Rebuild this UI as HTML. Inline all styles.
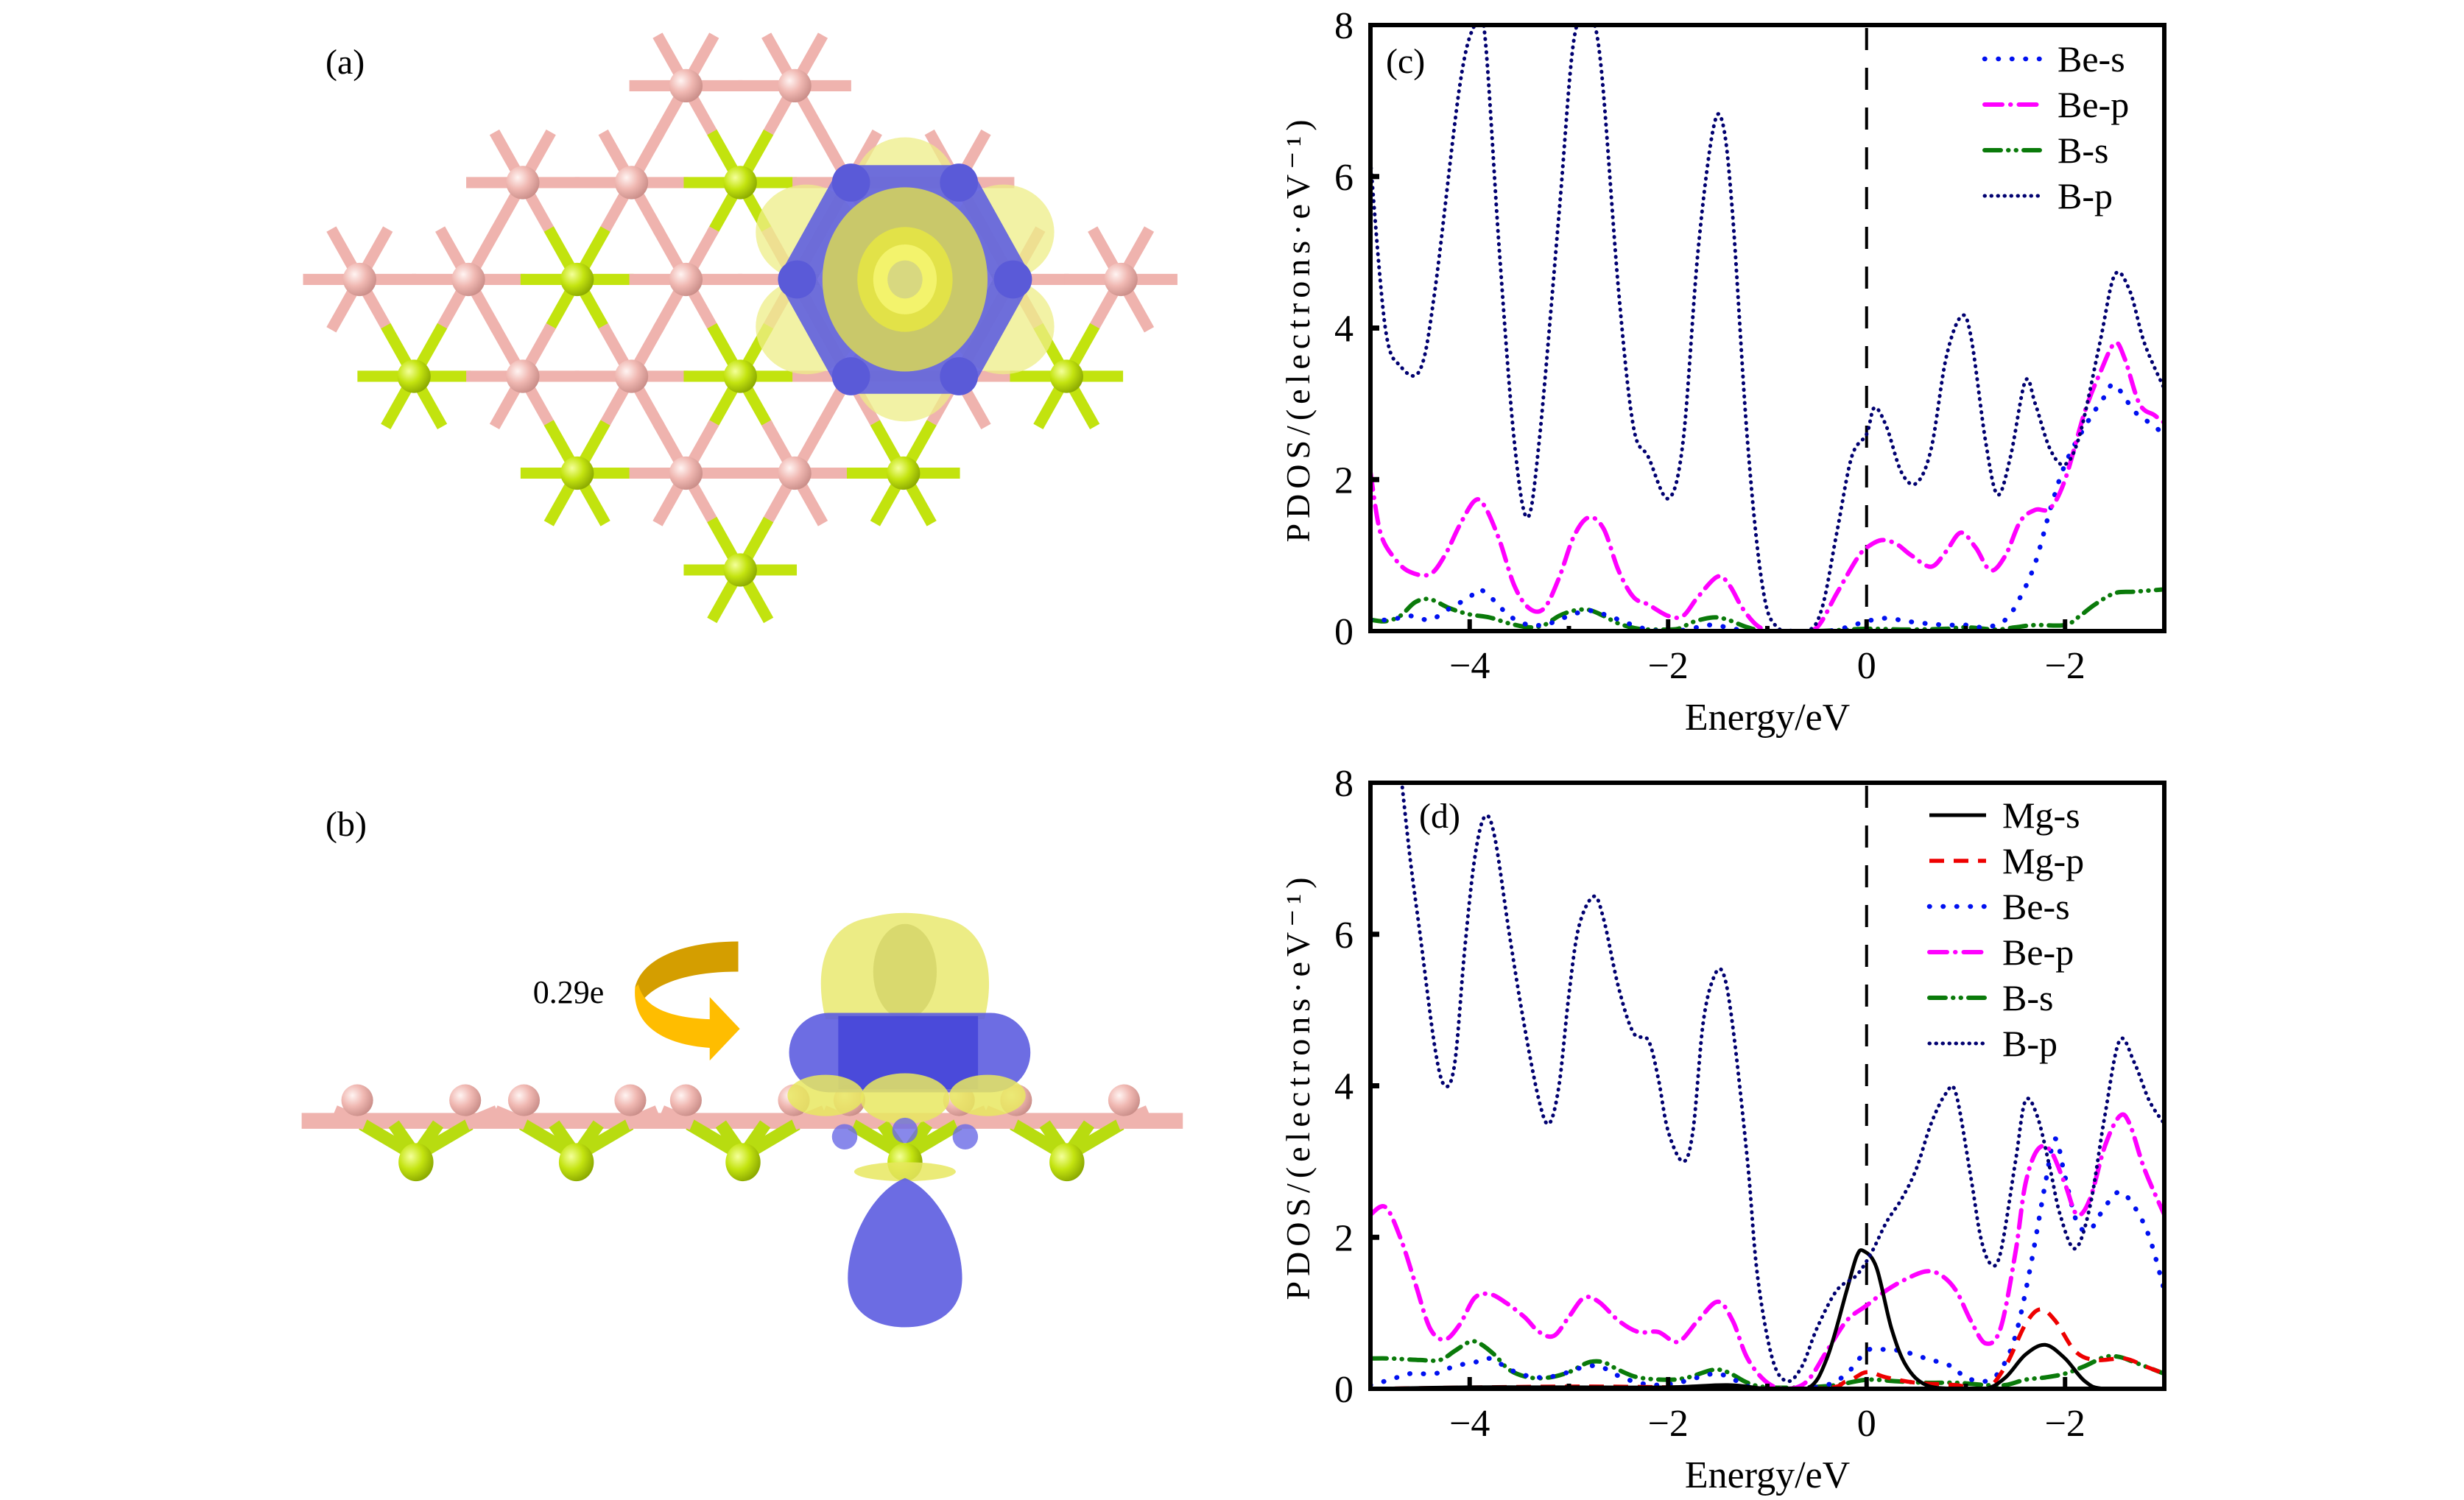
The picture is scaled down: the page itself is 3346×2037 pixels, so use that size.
<!DOCTYPE html>
<html><head><meta charset="utf-8">
<style>
html,body{margin:0;padding:0;background:#fff;}
svg{display:block;}
text{font-family:"Liberation Serif",serif;fill:#000;}
</style></head>
<body>
<svg id="fig" xmlns="http://www.w3.org/2000/svg" width="3346" height="2037" viewBox="0 0 3346 2037">
<defs>
<radialGradient id="gPink" cx="0.35" cy="0.35" r="0.7"><stop offset="0" stop-color="#fff4f2"/><stop offset="0.5" stop-color="#f0b8b2"/><stop offset="1" stop-color="#c98d88"/></radialGradient>
<radialGradient id="gGreen" cx="0.35" cy="0.35" r="0.7"><stop offset="0" stop-color="#f4ff9a"/><stop offset="0.5" stop-color="#c4e410"/><stop offset="1" stop-color="#8aa800"/></radialGradient>
<clipPath id="clipC"><rect x="1861" y="34" width="1078" height="823"/></clipPath>
<clipPath id="clipD"><rect x="1861" y="1063" width="1078" height="823"/></clipPath>
</defs>
<text x="442" y="100" font-size="48">(a)</text>
<text x="442" y="1135" font-size="48">(b)</text>
<g id="molA" transform="scale(2.156)"></g>
<g id="molB" transform="scale(2.156)"></g>
<text x="772" y="1362" font-size="44" text-anchor="middle">0.29e</text>
<g id="plotC"></g>
<g id="plotD"></g>
</svg>
<script>
// ---------- Chart data ----------
const xTickValues = [-4, -2, 0, 2];
const xTickLabels = ["\u22124", "\u22122", "0", "\u22122"];
const yTickValues = [0, 2, 4, 6, 8];
const yTickLabels = ["0", "2", "4", "6", "8"];

// Panel (c)
const cBpE = [-5,-4.85,-4.7,-4.5,-4.35,-4.1,-3.95,-3.85,-3.7,-3.55,-3.42,-3.3,-3.1,-2.95,-2.8,-2.68,-2.5,-2.35,-2.2,-2.0,-1.85,-1.7,-1.55,-1.45,-1.35,-1.2,-1.05,-0.9,-0.6,-0.45,-0.3,-0.15,0.0,0.08,0.2,0.35,0.5,0.65,0.8,0.95,1.05,1.2,1.32,1.45,1.6,1.7,1.85,2.0,2.15,2.35,2.5,2.65,2.8,3.0];
const cBpV = [6.2,4.0,3.5,3.45,4.5,7.2,8.0,7.9,5.0,2.5,1.5,2.5,5.5,7.8,8.1,7.5,4.5,2.7,2.3,1.75,2.5,5.0,6.6,6.7,5.5,2.5,0.6,0.05,0.0,0.3,1.3,2.3,2.6,2.95,2.7,2.1,1.95,2.4,3.6,4.15,3.9,2.5,1.8,2.3,3.3,3.0,2.4,2.2,2.6,3.8,4.7,4.5,3.8,3.2];
const cBePE = [-5,-4.9,-4.75,-4.6,-4.4,-4.25,-4.1,-3.95,-3.85,-3.7,-3.55,-3.4,-3.25,-3.1,-2.95,-2.8,-2.65,-2.5,-2.35,-2.2,-2.0,-1.85,-1.7,-1.5,-1.38,-1.25,-1.1,-0.95,-0.7,-0.5,-0.3,-0.1,0.0,0.15,0.3,0.45,0.65,0.8,0.95,1.1,1.25,1.4,1.55,1.7,1.85,2.0,2.2,2.35,2.5,2.6,2.75,2.9,3.0];
const cBePV = [2.1,1.3,0.95,0.78,0.75,1.0,1.4,1.72,1.65,1.2,0.6,0.3,0.3,0.7,1.25,1.5,1.35,0.8,0.45,0.35,0.2,0.2,0.45,0.72,0.6,0.3,0.07,0.0,0.0,0.05,0.5,0.95,1.1,1.2,1.15,1.0,0.85,1.05,1.3,1.1,0.8,1.0,1.45,1.6,1.62,2.0,2.9,3.4,3.8,3.6,3.0,2.85,2.75];
const cBeSE = [-5,-4.8,-4.6,-4.4,-4.2,-4.0,-3.9,-3.75,-3.6,-3.4,-3.2,-3.0,-2.8,-2.6,-2.4,-2.2,-2.0,-1.8,-1.6,-1.4,-1.2,-0.8,-0.4,-0.2,0.0,0.2,0.4,0.6,0.8,1.0,1.2,1.4,1.55,1.7,1.85,2.0,2.2,2.4,2.5,2.7,2.85,3.0];
const cBeSV = [0.15,0.15,0.2,0.15,0.3,0.45,0.55,0.4,0.2,0.08,0.1,0.2,0.27,0.2,0.1,0.02,0.0,0.02,0.08,0.05,0.0,0.0,0.0,0.05,0.13,0.17,0.13,0.1,0.08,0.08,0.05,0.15,0.45,0.9,1.6,2.2,2.7,3.1,3.25,2.9,2.75,2.6];
const cBsE = [-5,-4.85,-4.7,-4.55,-4.4,-4.2,-4.0,-3.8,-3.6,-3.4,-3.25,-3.1,-2.95,-2.8,-2.65,-2.5,-2.3,-2.1,-1.9,-1.75,-1.55,-1.4,-1.2,-1.0,-0.5,0.0,0.4,0.8,1.0,1.3,1.5,1.7,2.0,2.15,2.3,2.5,2.7,3.0];
const cBsV = [0.15,0.13,0.2,0.38,0.42,0.3,0.22,0.18,0.1,0.05,0.08,0.2,0.27,0.28,0.2,0.1,0.03,0.02,0.03,0.12,0.18,0.15,0.05,0.0,0.0,0.03,0.02,0.03,0.05,0.02,0.05,0.08,0.08,0.2,0.35,0.5,0.52,0.55];

// Panel (d)
const dBpE = [-4.7,-4.6,-4.5,-4.35,-4.25,-4.15,-4.05,-3.95,-3.85,-3.75,-3.6,-3.45,-3.3,-3.2,-3.1,-3.0,-2.9,-2.75,-2.65,-2.5,-2.35,-2.2,-2.1,-2.0,-1.85,-1.75,-1.65,-1.55,-1.45,-1.35,-1.2,-1.1,-0.95,-0.8,-0.65,-0.5,-0.3,-0.1,0.05,0.2,0.35,0.5,0.65,0.8,0.9,1.05,1.15,1.25,1.35,1.5,1.6,1.72,1.85,1.95,2.1,2.25,2.4,2.55,2.7,2.85,3.0];
const dBpV = [8.2,7.0,6.0,4.5,4.0,4.3,5.8,7.0,7.55,7.3,6.0,4.8,3.8,3.5,4.0,5.2,6.1,6.5,6.2,5.3,4.7,4.6,4.1,3.4,3.0,3.4,4.8,5.4,5.5,4.8,3.0,1.5,0.4,0.1,0.3,0.8,1.3,1.5,1.8,2.2,2.5,2.9,3.5,3.9,3.9,2.8,2.0,1.65,1.8,3.0,3.8,3.6,2.9,2.3,1.85,2.4,3.6,4.6,4.3,3.8,3.5];
const dBePE = [-5,-4.85,-4.7,-4.55,-4.4,-4.25,-4.1,-3.95,-3.8,-3.65,-3.45,-3.3,-3.15,-3.0,-2.85,-2.7,-2.5,-2.3,-2.1,-1.9,-1.7,-1.5,-1.35,-1.2,-1.0,-0.8,-0.6,-0.4,-0.2,0.0,0.2,0.4,0.6,0.75,0.9,1.05,1.2,1.35,1.5,1.6,1.72,1.85,2.0,2.12,2.25,2.4,2.55,2.65,2.8,3.0];
const dBePV = [2.3,2.4,2.0,1.4,0.8,0.65,0.85,1.2,1.25,1.15,0.95,0.75,0.7,0.95,1.2,1.15,0.9,0.75,0.75,0.62,0.9,1.15,0.9,0.4,0.08,0.0,0.1,0.5,0.9,1.1,1.3,1.45,1.55,1.5,1.3,0.9,0.6,0.8,1.8,2.7,3.15,3.15,2.7,2.3,2.5,3.2,3.6,3.5,2.9,2.3];
const dBeSE = [-5,-4.8,-4.6,-4.35,-4.15,-3.95,-3.8,-3.65,-3.5,-3.3,-3.1,-2.9,-2.7,-2.5,-2.3,-2.1,-1.9,-1.7,-1.5,-1.3,-1.1,-0.7,-0.4,-0.2,0.0,0.15,0.35,0.6,0.85,1.0,1.2,1.35,1.5,1.65,1.8,1.9,2.0,2.12,2.25,2.4,2.55,2.7,2.85,3.0];
const dBeSV = [0.05,0.12,0.2,0.2,0.3,0.35,0.4,0.3,0.2,0.15,0.18,0.27,0.3,0.17,0.08,0.05,0.08,0.15,0.2,0.1,0.0,0.0,0.05,0.2,0.5,0.52,0.5,0.4,0.3,0.15,0.1,0.25,0.7,1.6,2.7,3.3,2.8,2.2,2.1,2.4,2.6,2.4,2.0,1.3];
const dBsE = [-5,-4.8,-4.5,-4.3,-4.15,-4.0,-3.9,-3.75,-3.6,-3.4,-3.2,-3.0,-2.8,-2.65,-2.5,-2.3,-2.0,-1.8,-1.55,-1.4,-1.2,-1.0,-0.6,-0.3,0.0,0.3,0.6,0.9,1.2,1.4,1.6,1.8,2.0,2.2,2.4,2.55,2.7,3.0];
const dBsV = [0.4,0.4,0.38,0.38,0.5,0.62,0.6,0.45,0.25,0.15,0.15,0.22,0.35,0.35,0.25,0.15,0.12,0.15,0.25,0.22,0.08,0.02,0.02,0.05,0.12,0.1,0.08,0.08,0.05,0.05,0.12,0.15,0.2,0.3,0.42,0.42,0.35,0.2];
const dMgSE = [-5,-4,-3,-2,-1.4,-1.0,-0.6,-0.4,-0.2,-0.1,-0.03,0.1,0.25,0.4,0.6,0.9,1.2,1.4,1.6,1.8,2.0,2.2,2.4,3.0];
const dMgSV = [0,0.02,0.02,0.02,0.05,0.0,0.0,0.4,1.3,1.75,1.82,1.6,0.8,0.3,0.05,0.0,0.0,0.15,0.45,0.58,0.4,0.1,0.0,0.0];
const dMgPE = [-5,-2.8,-0.6,-0.2,0.0,0.2,0.5,0.9,1.2,1.4,1.6,1.75,1.9,2.1,2.3,2.6,2.8,3.0];
const dMgPV = [0,0.03,0,0.1,0.22,0.15,0.08,0.05,0.0,0.3,0.85,1.05,0.9,0.5,0.38,0.4,0.3,0.2];

const NS = "http://www.w3.org/2000/svg";
function mk(tag, attrs, parent) {
  const e = document.createElementNS(NS, tag);
  for (const k in attrs) e.setAttribute(k, attrs[k]);
  parent.appendChild(e);
  return e;
}
function smoothPath(pts) {
  let d = "M" + pts[0][0].toFixed(1) + "," + pts[0][1].toFixed(1);
  for (let i = 0; i < pts.length - 1; i++) {
    const p0 = pts[i - 1] || pts[i], p1 = pts[i], p2 = pts[i + 1], p3 = pts[i + 2] || p2;
    const c1 = [p1[0] + (p2[0] - p0[0]) / 6, p1[1] + (p2[1] - p0[1]) / 6];
    const c2 = [p2[0] - (p3[0] - p1[0]) / 6, p2[1] - (p3[1] - p1[1]) / 6];
    d += "C" + c1[0].toFixed(1) + "," + c1[1].toFixed(1) + " " + c2[0].toFixed(1) + "," + c2[1].toFixed(1) + " " + p2[0].toFixed(1) + "," + p2[1].toFixed(1);
  }
  return d;
}
const STY = {
  "Mg-s": {c: "#000", w: 5, dash: "", cap: "butt"},
  "Mg-p": {c: "#e00", w: 5.5, dash: "20 13", cap: "butt"},
  "Be-s": {c: "#0010f0", w: 6.5, dash: "0.5 18", cap: "round"},
  "Be-p": {c: "#ff00ff", w: 6, dash: "24 11 0.5 11", cap: "round"},
  "B-s": {c: "#0a7a0a", w: 6, dash: "22 10 0.5 10 0.5 10", cap: "round"},
  "B-p": {c: "#000070", w: 5, dash: "0.5 8.5", cap: "round"}
};
function drawPanel(g, top, label, clipId, series, legendRows) {
  const L = 1861, R = 2939, B = top + 823;
  const xs = v => L + (v + 5) * (R - L) / 8;
  const ys = v => B - v * 823 / 8;
  const z = mk("line", {x1: xs(0), x2: xs(0), y1: top + 4, y2: B, stroke: "#000", "stroke-width": 4, "stroke-dasharray": "30 24"}, g);
  
  
  const sg = mk("g", {"clip-path": "url(#" + clipId + ")"}, g);
  
  
  series.forEach(s => {
    const st = STY[s.name];
    const pts = s.e.map((e, i) => [xs(e), ys(s.v[i])]);
    const p = mk("path", {d: smoothPath(pts), fill: "none", stroke: st.c, "stroke-width": st.w, "stroke-dasharray": st.dash, "stroke-linecap": st.cap, "stroke-linejoin": "round"}, sg);
    
    
  });
  const fr = mk("rect", {x: L, y: top, width: R - L, height: 823, fill: "none", stroke: "#000", "stroke-width": 6}, g);
  
  
  for (let v = -4; v <= 2; v++) {
    const major = v % 2 === 0;
    const t = mk("line", {x1: xs(v), x2: xs(v), y1: B, y2: B - (major ? 16 : 7), stroke: "#000", "stroke-width": 6}, g);
    
    
  }
  xTickValues.forEach((v, i) => {
    const t = mk("text", {x: xs(v), y: B + 64, "font-size": 52, "text-anchor": "middle"}, g);
    t.textContent = xTickLabels[i];
    
    
  });
  yTickValues.forEach((v, i) => {
    if (v > 0 && v < 8) {
      const t = mk("line", {x1: L, x2: L + 12, y1: ys(v), y2: ys(v), stroke: "#000", "stroke-width": 7}, g);
      
      
    }
    const tl = mk("text", {x: 1838, y: ys(v) + 18, "font-size": 52, "text-anchor": "end"}, g);
    tl.textContent = yTickLabels[i];
    
    
  });
  const yl = mk("text", {x: 0, y: 0, "font-size": 46, "letter-spacing": "7", "text-anchor": "middle", transform: "translate(1778," + (top + 412) + ") rotate(-90)"}, g);
  yl.textContent = "PDOS/(electrons\u00b7eV\u207b\u00b9)";
  
  
  const xl = mk("text", {x: 2400, y: B + 134, "font-size": 52, "text-anchor": "middle"}, g);
  xl.textContent = "Energy/eV";
  
  
  const pl = mk("text", {x: label.x, y: label.y, "font-size": 48}, g);
  pl.textContent = label.t;
  
  
  legendRows.rows.forEach((n, i) => {
    const y = legendRows.y0 + i * legendRows.dy;
    const st = STY[n];
    const ln = mk("line", {x1: legendRows.x1, x2: legendRows.x2, y1: y, y2: y, stroke: st.c, "stroke-width": st.w, "stroke-dasharray": st.dash, "stroke-linecap": st.cap}, g);
    
    
    const tx = mk("text", {x: legendRows.x2 + 22, y: y + 17, "font-size": 50}, g);
    tx.textContent = n;
    
    
  });
}
drawPanel(document.getElementById("plotC"), 34, {t: "(c)", x: 1882, y: 99}, "clipC", [
  {name: "B-s", e: cBsE, v: cBsV},
  {name: "Be-s", e: cBeSE, v: cBeSV},
  {name: "Be-p", e: cBePE, v: cBePV},
  {name: "B-p", e: cBpE, v: cBpV}
], {rows: ["Be-s", "Be-p", "B-s", "B-p"], x1: 2695, x2: 2772, y0: 80, dy: 62});
drawPanel(document.getElementById("plotD"), 1063, {t: "(d)", x: 1927, y: 1124}, "clipD", [
  {name: "B-s", e: dBsE, v: dBsV},
  {name: "Be-s", e: dBeSE, v: dBeSV},
  {name: "Be-p", e: dBePE, v: dBePV},
  {name: "Mg-p", e: dMgPE, v: dMgPV},
  {name: "Mg-s", e: dMgSE, v: dMgSV},
  {name: "B-p", e: dBpE, v: dBpV}
], {rows: ["Mg-s", "Mg-p", "Be-s", "Be-p", "B-s", "B-p"], x1: 2620, x2: 2697, y0: 1107, dy: 62});

// ---------- Molecular panel (a) ----------
const A = document.getElementById("molA");
const a = 68.5, h = 61, ox = 432, oy = 176;
const atomsA = [
  [1,-2,"p"],[2,-2,"p"],
  [-1,-1,"p"],[0,-1,"p"],[1,-1,"g"],[2,-1,"p"],[3,-1,"p"],
  [-3,0,"p"],[-2,0,"p"],[-1,0,"g"],[0,0,"p"],[1,0,"p"],[3,0,"p"],[4,0,"p"],
  [-3,1,"g"],[-2,1,"p"],[-1,1,"p"],[0,1,"g"],[1,1,"p"],[2,1,"p"],[3,1,"g"],
  [-2,2,"g"],[-1,2,"p"],[0,2,"p"],[1,2,"g"],
  [-1,3,"g"]
];
const pos = (i, j) => [ox + a * (i + j / 2), oy + h * j];
const dirs = [[a,0],[-a,0],[a/2,h],[-a/2,h],[a/2,-h],[-a/2,-h]];
const bondG = mk("g", {"stroke-width": 7, "stroke-linecap": "butt"}, A);


atomsA.forEach(t => {
  const [x, y] = pos(t[0], t[1]);
  const col = t[2] === "g" ? "#c2e30e" : "#efb3ae";
  dirs.forEach(d => {
    const ln = mk("line", {x1: x, y1: y, x2: x + d[0] * 0.52, y2: y + d[1] * 0.52, stroke: col}, bondG);
    
    
  });
});
atomsA.forEach(t => {
  const [x, y] = pos(t[0], t[1]);
  const c = mk("circle", {cx: x, cy: y, r: 10.5, fill: t[2] === "g" ? "url(#gGreen)" : "url(#gPink)"}, A);
  
  
});
(function(){
  const cx = 570, cy = 176;
  const outer = mk("g", {opacity: 0.75}, A);
  
  
  [[0,-70],[0,70],[-62,-35],[62,-35],[-62,35],[62,35]].forEach(o => {
    mk("ellipse", {cx: cx + o[0], cy: cy + o[1] * 0.85, rx: 32, ry: 30, fill: "#eeee88"}, outer);
  });
  const hex = [[-34,-61],[34,-61],[68,0],[34,61],[-34,61],[-68,0]].map(p => [cx + p[0], cy + p[1]]);
  const hp = mk("path", {d: "M" + hex.map(p => p.join(",")).join(" L") + "Z", fill: "#6d6de6", stroke: "#6363df", "stroke-width": 22, "stroke-linejoin": "round", opacity: 0.92}, A);
  
  
  hex.forEach(p => mk("circle", {cx: p[0], cy: p[1], r: 12, fill: "#5a5ad8"}, A));
  const e1 = mk("ellipse", {cx: cx, cy: cy, rx: 52, ry: 58, fill: "#c9c86a"}, A);
  
  
  mk("ellipse", {cx: cx, cy: cy, rx: 30, ry: 33, fill: "#e8e840", opacity: 0.8}, A);
  mk("ellipse", {cx: cx, cy: cy, rx: 20, ry: 22, fill: "#f5f570", opacity: 0.9}, A);
  mk("ellipse", {cx: cx, cy: cy, rx: 11, ry: 12, fill: "#d8d880"}, A);
})();

// ---------- Molecular panel (b) ----------
(function(){
  const Bg = document.getElementById("molB");
  const pinkX = [225,293,330,397,432,500,535,604,640,708];
  const greenX = [262,363,468,570,672];
  const band = mk("line", {x1: 190, y1: 706, x2: 745, y2: 706, stroke: "#efb3ae", "stroke-width": 10}, Bg);
  
  
  greenX.forEach(x => {
    [[-34,-20],[34,-20],[-14,-20],[14,-20]].forEach(d => {
      mk("line", {x1: x, y1: 728, x2: x + d[0], y2: 728 + d[1], stroke: "#b8dc10", "stroke-width": 8}, Bg);
    });
    [-32,32].forEach(d => mk("line", {x1: x + d, y1: 708, x2: x + d * 1.6, y2: 700, stroke: "#efb3ae", "stroke-width": 8}, Bg));
  });
  pinkX.forEach(x => {
    const c = mk("circle", {cx: x, cy: 693, r: 10, fill: "url(#gPink)"}, Bg);
    
    
  });
  greenX.forEach(x => {
    const c = mk("ellipse", {cx: x, cy: 732, rx: 11, ry: 12, fill: "url(#gGreen)"}, Bg);
    
    
  });
  const cx = 570;
  const y1 = mk("path", {d: "M520,642 C512,610 520,582 548,578 C562,574 578,574 592,578 C620,582 628,610 620,642 Z", fill: "#eaea78", opacity: 0.9}, Bg);
  
  
  mk("ellipse", {cx: cx, cy: 612, rx: 20, ry: 30, fill: "#d4d468", opacity: 0.8}, Bg);
  const bl = mk("rect", {x: 497, y: 638, width: 152, height: 50, rx: 25, fill: "#5d5de0", opacity: 0.9}, Bg);
  
  
  mk("rect", {x: 528, y: 640, width: 88, height: 46, fill: "#3c3cd6", opacity: 0.7}, Bg);
  [[520,690,24,13],[570,692,28,16],[622,690,24,13]].forEach(e => mk("ellipse", {cx: e[0], cy: e[1], rx: e[2], ry: e[3], fill: "#e8e860", opacity: 0.85}, Bg));
  [[532,716],[608,716],[570,712]].forEach(p => mk("circle", {cx: p[0], cy: p[1], r: 8, fill: "#6a6ae6", opacity: 0.8}, Bg));
  mk("ellipse", {cx: cx, cy: 738, rx: 32, ry: 6, fill: "#e8e860", opacity: 0.85}, Bg);
  const bb = mk("path", {d: "M570,742 C590,750 606,780 606,805 C606,826 590,836 570,836 C550,836 534,826 534,805 C534,780 550,750 570,742 Z", fill: "#6464e2", opacity: 0.95}, Bg);
  
  
  const ar1 = mk("path", {d: "M465,593 L465,612 C432,612 410,620 402,634 L400,622 C404,604 430,593 465,593 Z", fill: "#d49e00"}, Bg);
  
  
  const ar2 = mk("path", {d: "M400,622 C398,646 418,658 447,660 L447,668 L466,648 L447,628 L447,642 C424,641 406,636 402,620 Z", fill: "#ffbd00"}, Bg);
  
  
})();
</script>
</body></html>
